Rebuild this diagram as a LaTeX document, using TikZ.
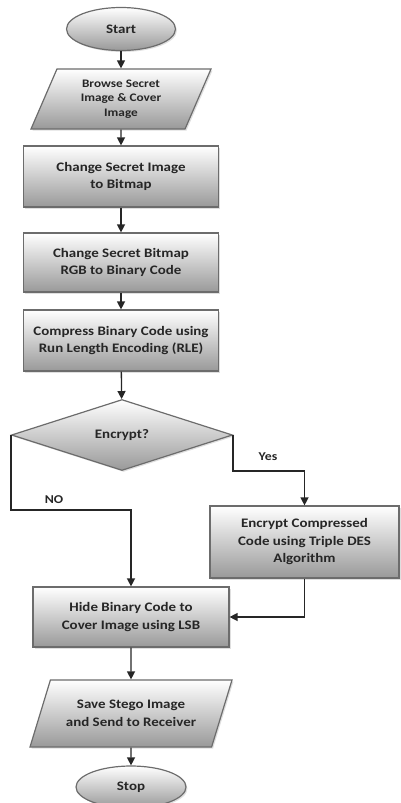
\documentclass[tikz,border=0pt]{standalone}
\usepackage{fontspec}
\setmainfont{Carlito}[FakeStretch=1.15]
\usetikzlibrary{shapes.geometric,shadows,arrows.meta}

\begin{document}
\begin{tikzpicture}[x=1pt,y=-1pt]
    \tikzset{
        block/.style={
            rectangle, draw=gray!85!black, line width=1.2pt,
            top color=white, bottom color=gray!80,
            drop shadow={opacity=0.25, shadow xshift=1.5pt, shadow yshift=-1.5pt},
            font=\bfseries\fontsize{13}{17.5}\selectfont, text=black!85,
            align=center, inner sep=0pt,
        },
        terminal/.style={block, ellipse},
        io/.style={block, trapezium, trapezium stretches body,
            trapezium left angle=56, trapezium right angle=124},
        decision/.style={block, diamond},
        flow/.style={-{Triangle[length=8pt,width=8pt]}, line width=1.3pt, draw=black!85},
        branch/.style={font=\bfseries\fontsize{12}{14}\selectfont, text=black!85},
    }
    \useasboundingbox (0,0) rectangle (401,803);

    % Nodes
    \node[terminal, minimum width=109, minimum height=43] (start) at (121,29) {Start};
    \node[io, minimum width=180, minimum height=60,
        font=\bfseries\fontsize{11.5}{14.5}\selectfont] (browse) at (121,99)
        {Browse Secret\\Image \& Cover\\Image};
    \node[block, minimum width=195, minimum height=61] (bitmap) at (121,176.5)
        {Change Secret Image\\to Bitmap};
    \node[block, minimum width=195, minimum height=59] (binary) at (121,262.5)
        {Change Secret Bitmap\\RGB to Binary Code};
    \node[block, minimum width=195, minimum height=61] (compress) at (121,340.5)
        {Compress Binary Code using\\Run Length Encoding (RLE)};
    \node[decision, minimum width=221, minimum height=71] (encq) at (122,435) {Encrypt?};
    \node[block, minimum width=189, minimum height=72] (encrypt) at (304.5,542)
        {Encrypt Compressed\\Code using Triple DES\\Algorithm};
    \node[block, minimum width=196, minimum height=60] (hide) at (131,617)
        {Hide Binary Code to\\Cover Image using LSB};
    \node[io, trapezium left angle=52, trapezium right angle=128,
        minimum width=202, minimum height=67] (save) at (131,713.5)
        {Save Stego Image\\and Send to Receiver};
    \node[terminal, minimum width=110, minimum height=42] (stop) at (131,787) {Stop};

    % Arrows
    \draw[flow] (start) -- (browse);
    \draw[flow] (browse) -- (bitmap);
    \draw[flow] (bitmap) -- (binary);
    \draw[flow] (binary) -- (compress);
    \draw[flow] (compress) -- (encq);
    \draw[flow] (encq.east) -- ++(0,36) coordinate (yesbend) -| (encrypt.north);
    \draw[flow] (encq.west) -- ++(0,75) coordinate (nobend) -| (hide.north);
    \draw[flow] (encrypt.south) |- (hide.east);
    \draw[flow] (hide) -- (save);
    \draw[flow] (save) -- (stop);

    % Labels
    \node[branch] (yes) at (268,457) {Yes};
    \node[branch] (no) at (54,500) {NO};
\end{tikzpicture}
\end{document}
